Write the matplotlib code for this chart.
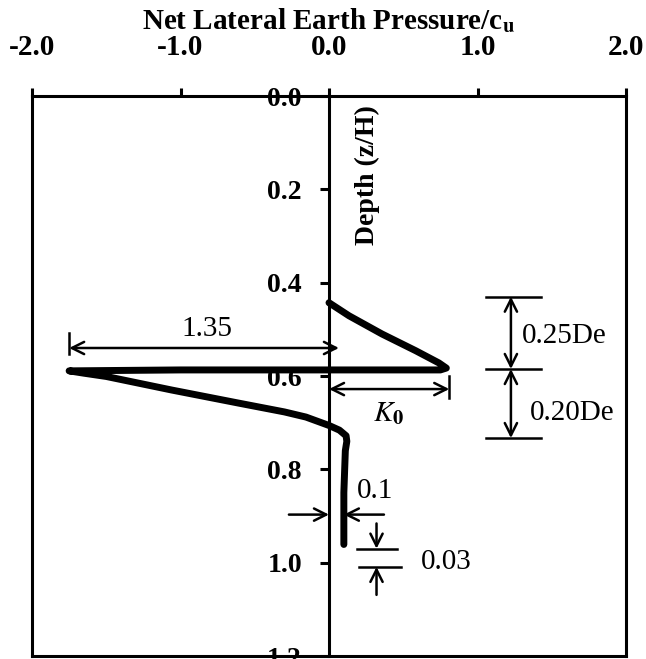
import matplotlib
matplotlib.use("Agg")
import matplotlib.pyplot as plt

plt.rcParams['font.family'] = ['Liberation Serif', 'DejaVu Serif']
plt.rcParams['mathtext.fontset'] = 'stix'

# net lateral earth pressure / cu  vs  depth z/H
pressure = [0.0, 0.135, 0.357, 0.585, 0.74, 0.79, 0.75, 0.0, -1.0, -1.75,
            -1.65, -1.5, -1.06, -0.61, -0.3, -0.155, 0.0, 0.07, 0.115, 0.12,
            0.11, 0.10, 0.10]
depth = [0.443, 0.471, 0.51, 0.546, 0.572, 0.583, 0.587, 0.587, 0.587, 0.589,
         0.594, 0.601, 0.63, 0.658, 0.677, 0.688, 0.706, 0.716, 0.728, 0.74,
         0.76, 0.85, 0.961]

x_ticks = [-2.0, -1.0, 0.0, 1.0, 2.0]
x_ticklabels = ['-2.0', '-1.0', '0.0', '1.0', '2.0']
y_ticks = [0.0, 0.2, 0.4, 0.6, 0.8, 1.0, 1.2]
y_ticklabels = ['0.0', '0.2', '0.4', '0.6', '0.8', '1.0', '1.2']

fig = plt.figure(figsize=(6.46, 6.59), dpi=100)
ax = fig.add_axes([32/646, 3/659, 594/646, 560/659])

ax.plot(pressure, depth, color='k', lw=5, solid_joinstyle='round',
        solid_capstyle='round', zorder=5)

ax.set_xlim(-2, 2)
ax.set_ylim(1.2, 0)

# axes frame
ax.spines['left'].set_position(('data', 0))
for s in ax.spines.values():
    s.set_linewidth(2.2)
ax.axvline(-2, color='k', lw=2.2, clip_on=False)

ax.xaxis.tick_top()
ax.xaxis.set_label_position('top')
ax.set_xticks(x_ticks)
ax.set_xticklabels(x_ticklabels, fontweight='bold', fontsize=21)
ax.set_yticks(y_ticks)
ax.set_yticklabels(y_ticklabels, fontweight='bold', fontsize=20)
ax.tick_params(axis='x', direction='out', length=6, width=2.2, pad=19)
ax.tick_params(axis='y', direction='out', length=6.5, width=2.2, pad=13)
ax.set_xlabel(r'Net Lateral Earth Pressure/c$_{\mathbf{u}}$', fontweight='bold',
              fontsize=21, labelpad=4)

ax.text(0.26, 0.02, 'Depth (z/H)', rotation=90, ha='center', va='top',
        fontweight='bold', fontsize=20)

arrow = dict(arrowstyle='<->', color='k', lw=1.8, mutation_scale=22,
             shrinkA=0, shrinkB=0)
single = dict(arrowstyle='->', color='k', lw=1.8, mutation_scale=22,
              shrinkA=0, shrinkB=0)
fs = 21

# 1.35
ax.annotate('', xy=(0.067, 0.54), xytext=(-1.75, 0.54), arrowprops=arrow)
ax.plot([-1.75, -1.75], [0.508, 0.553], color='k', lw=1.8)
ax.text(-0.82, 0.50, '1.35', ha='center', va='center', fontsize=fs)

# K0
ax.annotate('', xy=(0.81, 0.628), xytext=(0.0, 0.628), arrowprops=arrow)
ax.plot([0.81, 0.81], [0.60, 0.647], color='k', lw=1.8)
ax.text(0.40, 0.68, r'$K_{\mathbf{0}}$', ha='center', va='center', fontsize=fs)

# 0.25De / 0.20De
for yy in [0.43, 0.585, 0.733]:
    ax.plot([1.06, 1.43], [yy, yy], color='k', lw=1.8)
ax.annotate('', xy=(1.225, 0.43), xytext=(1.225, 0.585), arrowprops=arrow)
ax.annotate('', xy=(1.225, 0.585), xytext=(1.225, 0.733), arrowprops=arrow)
ax.text(1.30, 0.514, '0.25De', ha='left', va='center', fontsize=fs)
ax.text(1.35, 0.68, '0.20De', ha='left', va='center', fontsize=fs)

# 0.1
ax.annotate('', xy=(0.0, 0.897), xytext=(-0.27, 0.897), arrowprops=single)
ax.annotate('', xy=(0.10, 0.897), xytext=(0.37, 0.897), arrowprops=single)
ax.text(0.19, 0.847, '0.1', ha='left', va='center', fontsize=fs)

# 0.03
ax.plot([0.19, 0.46], [0.97, 0.97], color='k', lw=1.8)
ax.plot([0.20, 0.485], [1.009, 1.009], color='k', lw=1.8)
ax.annotate('', xy=(0.32, 0.97), xytext=(0.32, 0.916), arrowprops=single)
ax.annotate('', xy=(0.32, 1.009), xytext=(0.32, 1.069), arrowprops=single)
ax.text(0.62, 0.998, '0.03', ha='left', va='center', fontsize=fs)

fig.savefig('out.png', dpi=100)
